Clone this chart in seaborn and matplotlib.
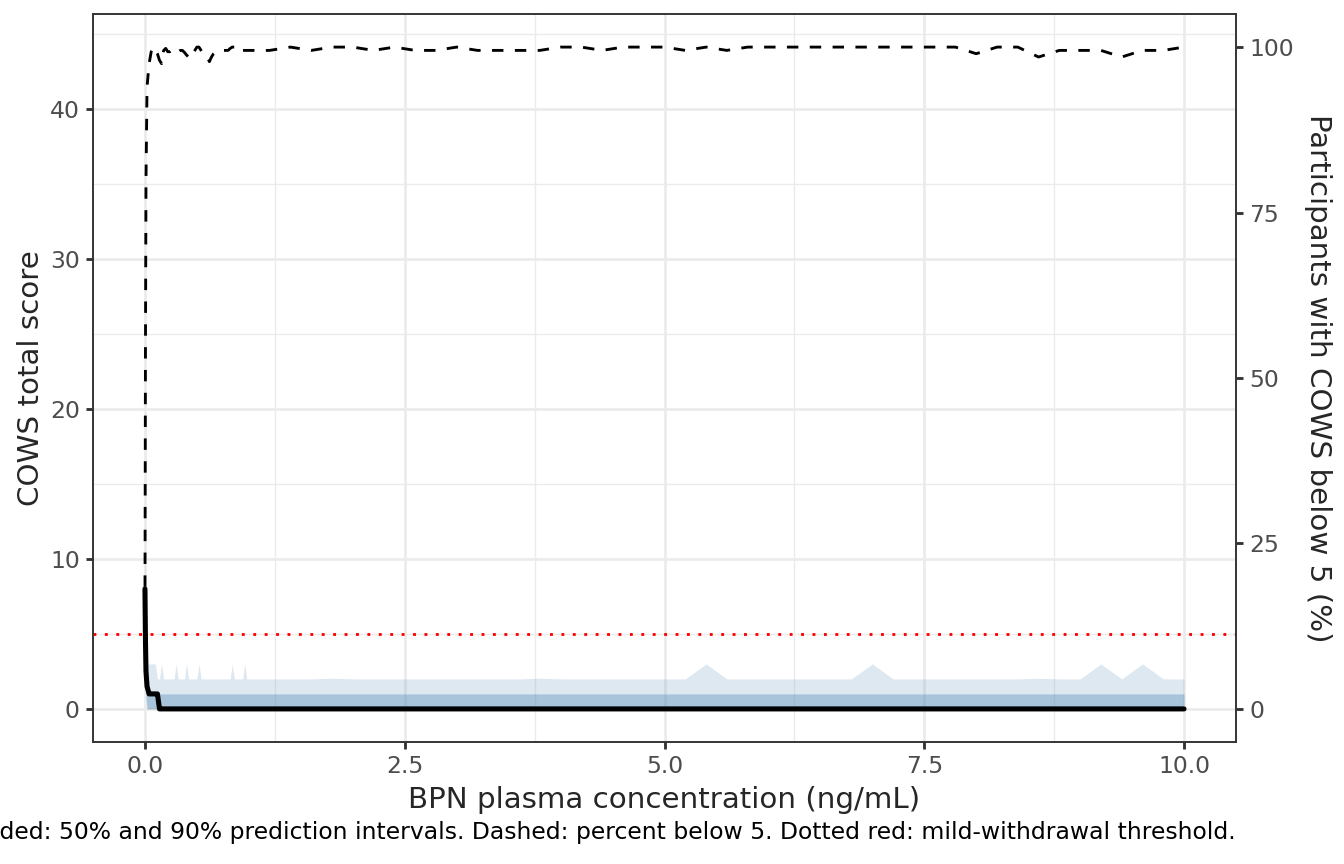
import matplotlib
matplotlib.use("Agg")
from matplotlib import pyplot as plt
from matplotlib.ticker import FixedLocator
import numpy as np
import pandas as pd
import seaborn as sns

# concentration grid (ng/mL): fine near zero, coarse afterwards
conc_fine = [0.0, 0.005, 0.01, 0.02, 0.04, 0.06, 0.08, 0.10, 0.12, 0.14,
             0.16, 0.18, 0.20, 0.22, 0.24, 0.26, 0.28, 0.30, 0.32, 0.34,
             0.36, 0.38, 0.40, 0.42, 0.44, 0.46, 0.48, 0.50, 0.52, 0.54,
             0.56, 0.58, 0.60, 0.62, 0.64, 0.66, 0.68, 0.70, 0.72, 0.74,
             0.76, 0.78, 0.80, 0.82, 0.84, 0.86, 0.88, 0.90, 0.92, 0.94,
             0.96, 0.98, 1.00]
conc_coarse = [1.2, 1.4, 1.6, 1.8, 2.0, 2.2, 2.4, 2.6, 2.8, 3.0,
               3.2, 3.4, 3.6, 3.8, 4.0, 4.2, 4.4, 4.6, 4.8, 5.0,
               5.2, 5.4, 5.6, 5.8, 6.0, 6.2, 6.4, 6.6, 6.8, 7.0,
               7.2, 7.4, 7.6, 7.8, 8.0, 8.2, 8.4, 8.6, 8.8, 9.0,
               9.2, 9.4, 9.6, 9.8, 10.0]

# COWS score: median and prediction intervals
median_fine = [8, 4.5, 2.5, 1.5, 1, 1, 1, 1, 1, 0,
               0, 0, 0, 0, 0, 0, 0, 0, 0, 0,
               0, 0, 0, 0, 0, 0, 0, 0, 0, 0,
               0, 0, 0, 0, 0, 0, 0, 0, 0, 0,
               0, 0, 0, 0, 0, 0, 0, 0, 0, 0,
               0, 0, 0]
median_coarse = [0, 0, 0, 0, 0, 0, 0, 0, 0, 0,
                 0, 0, 0, 0, 0, 0, 0, 0, 0, 0,
                 0, 0, 0, 0, 0, 0, 0, 0, 0, 0,
                 0, 0, 0, 0, 0, 0, 0, 0, 0, 0,
                 0, 0, 0, 0, 0]

lo50_fine = [6, 3, 1, 0, 0, 0, 0, 0, 0, 0,
             0, 0, 0, 0, 0, 0, 0, 0, 0, 0,
             0, 0, 0, 0, 0, 0, 0, 0, 0, 0,
             0, 0, 0, 0, 0, 0, 0, 0, 0, 0,
             0, 0, 0, 0, 0, 0, 0, 0, 0, 0,
             0, 0, 0]
hi50_fine = [10, 5, 3, 2, 1, 1, 1, 1, 1, 1,
             1, 1, 1, 1, 1, 1, 1, 1, 1, 1,
             1, 1, 1, 1, 1, 1, 1, 1, 1, 1,
             1, 1, 1, 1, 1, 1, 1, 1, 1, 1,
             1, 1, 1, 1, 1, 1, 1, 1, 1, 1,
             1, 1, 1]
lo90_fine = [3, 1, 0.5, 0, 0, 0, 0, 0, 0, 0,
             0, 0, 0, 0, 0, 0, 0, 0, 0, 0,
             0, 0, 0, 0, 0, 0, 0, 0, 0, 0,
             0, 0, 0, 0, 0, 0, 0, 0, 0, 0,
             0, 0, 0, 0, 0, 0, 0, 0, 0, 0,
             0, 0, 0]
hi90_fine = [13, 6, 4, 3, 3, 3, 3, 3, 2, 2,
             3, 2, 2, 2, 2, 2, 2, 3, 2, 2,
             2, 2, 3, 2, 2, 2, 2, 2, 3, 2,
             2, 2, 2, 2, 2, 2, 2, 2, 2, 2,
             2, 2, 2, 2, 3, 2, 2, 2, 2, 2,
             3, 2, 2]

lo50_coarse = [0, 0, 0, 0, 0, 0, 0, 0, 0, 0,
               0, 0, 0, 0, 0, 0, 0, 0, 0, 0,
               0, 0, 0, 0, 0, 0, 0, 0, 0, 0,
               0, 0, 0, 0, 0, 0, 0, 0, 0, 0,
               0, 0, 0, 0, 0]
hi50_coarse = [1, 1, 1, 1, 1, 1, 1, 1, 1, 1,
               1, 1, 1, 1, 1, 1, 1, 1, 1, 1,
               1, 1, 1, 1, 1, 1, 1, 1, 1, 1,
               1, 1, 1, 1, 1, 1, 1, 1, 1, 1,
               1, 1, 1, 1, 1]
lo90_coarse = [0, 0, 0, 0, 0, 0, 0, 0, 0, 0,
               0, 0, 0, 0, 0, 0, 0, 0, 0, 0,
               0, 0, 0, 0, 0, 0, 0, 0, 0, 0,
               0, 0, 0, 0, 0, 0, 0, 0, 0, 0,
               0, 0, 0, 0, 0]
hi90_coarse = [2, 2, 2, 2.05, 2, 2, 2, 2, 2, 2,
               2, 2, 2, 2.05, 2, 2, 2, 2, 2, 2,
               2, 3, 2, 2, 2, 2, 2, 2, 2, 3,
               2, 2, 2, 2, 2, 2, 2, 2.04, 2, 2,
               3, 2, 3, 2, 2]

# percent of participants with COWS < 5
pct_fine = [15, 55, 80, 94, 97.5, 99.3, 100, 99.5, 99, 98,
            97.5, 99.5, 99.8, 99.3, 99.3, 99.5, 99.3, 99, 99.3, 99.5,
            99.5, 99.2, 98.8, 98.5, 98.3, 99, 99.5, 100, 100, 99.5,
            99, 98.8, 98.5, 97.8, 98.5, 99, 99.3, 99.5, 99.5, 99.5,
            99.5, 99.5, 99.5, 99.8, 100, 100, 99.5, 99.3, 99.5, 99.5,
            99.5, 99.5, 99.5]
pct_coarse = [99.5, 100, 99.5, 100, 100, 99.5, 100, 99.5, 99.5, 100,
              99.5, 99.5, 99.5, 99.5, 100, 100, 99.5, 100, 100, 100,
              99.5, 100, 99.5, 100, 100, 100, 100, 100, 100, 100,
              100, 100, 100, 100, 99, 100, 100, 98.5, 99.5, 99.5,
              99.5, 98.5, 99.5, 99.5, 100]

threshold = 5
x_ticks = [0, 2.5, 5, 7.5, 10]
x_tick_labels = ["0.0", "2.5", "5.0", "7.5", "10.0"]
y_ticks = [0, 10, 20, 30, 40]
pct_ticks = [0, 25, 50, 75, 100]
caption = ("Solid: median. Shaded: 50% and 90% prediction intervals. "
           "Dashed: percent below 5. Dotted red: mild-withdrawal threshold.")

df = pd.DataFrame({
    "conc": conc_fine + conc_coarse,
    "median": median_fine + median_coarse,
    "lo50": lo50_fine + lo50_coarse,
    "hi50": hi50_fine + hi50_coarse,
    "lo90": lo90_fine + lo90_coarse,
    "hi90": hi90_fine + hi90_coarse,
    "pct": pct_fine + pct_coarse,
})

sns.set_theme(style="white")
plt.rcParams["font.family"] = ["DejaVu Sans"]

grey20 = "#333333"
grey30 = "#4D4D4D"
grid_col = "#EBEBEB"

fig = plt.figure(figsize=(7, 4.5), dpi=192)
ax = fig.add_axes([93 / 1344, 122 / 864, 1143 / 1344, 728 / 864])

ax.fill_between(df["conc"], df["lo90"], df["hi90"], color="steelblue",
                alpha=0.18, lw=0)
ax.fill_between(df["conc"], df["lo50"], df["hi50"], color="steelblue",
                alpha=0.35, lw=0)
sns.lineplot(data=df, x="conc", y="median", color="black", lw=1.9,
             estimator=None, ax=ax)
ax.axhline(threshold, color="red", lw=1.07, linestyle=(0, (1, 3)))

ax.set_xlim(-0.5, 10.5)
ax.set_ylim(-2.206, 46.326)
ax.xaxis.set_major_locator(FixedLocator(x_ticks))
ax.set_xticklabels(x_tick_labels)
ax.xaxis.set_minor_locator(FixedLocator([1.25, 3.75, 6.25, 8.75]))
ax.yaxis.set_major_locator(FixedLocator(y_ticks))
ax.yaxis.set_minor_locator(FixedLocator([5, 15, 25, 35, 45]))
ax.grid(which="major", color=grid_col, lw=1.0)
ax.grid(which="minor", color=grid_col, lw=0.5)
ax.set_axisbelow(True)
ax.tick_params(which="major", length=2.75, width=1.07, color=grey20,
               labelcolor=grey30, labelsize=8.8, pad=2.2,
               bottom=True, left=True)
ax.tick_params(which="minor", length=0)
for sp in ax.spines.values():
    sp.set_color(grey20)
    sp.set_linewidth(0.6)
ax.set_xlabel("BPN plasma concentration (ng/mL)", fontsize=11, labelpad=3)
ax.set_ylabel("COWS total score", fontsize=11, labelpad=2)

ax2 = ax.twinx()
sns.lineplot(data=df, x="conc", y="pct", color="black", lw=1.07,
             linestyle=(0, (4, 4)), estimator=None, ax=ax2)
ax2.set_ylim(-5, 105)
ax2.yaxis.set_major_locator(FixedLocator(pct_ticks))
ax2.grid(False)
ax2.tick_params(length=2.75, width=1.07, color=grey20, labelcolor=grey30,
                labelsize=8.8, pad=2.2, right=True)
for sp in ax2.spines.values():
    sp.set_color(grey20)
    sp.set_linewidth(0.6)
ax2.set_ylabel("Participants with COWS below 5 (%)", fontsize=11,
               rotation=270, va="bottom", labelpad=4)

# caption is right-aligned with the panel, as in the original figure
fig.text(1236 / 1344, 1 - 833 / 864, caption, ha="right", va="center",
         fontsize=8.8, color="black")

fig.savefig("out.png", dpi=192)
plt.close(fig)
